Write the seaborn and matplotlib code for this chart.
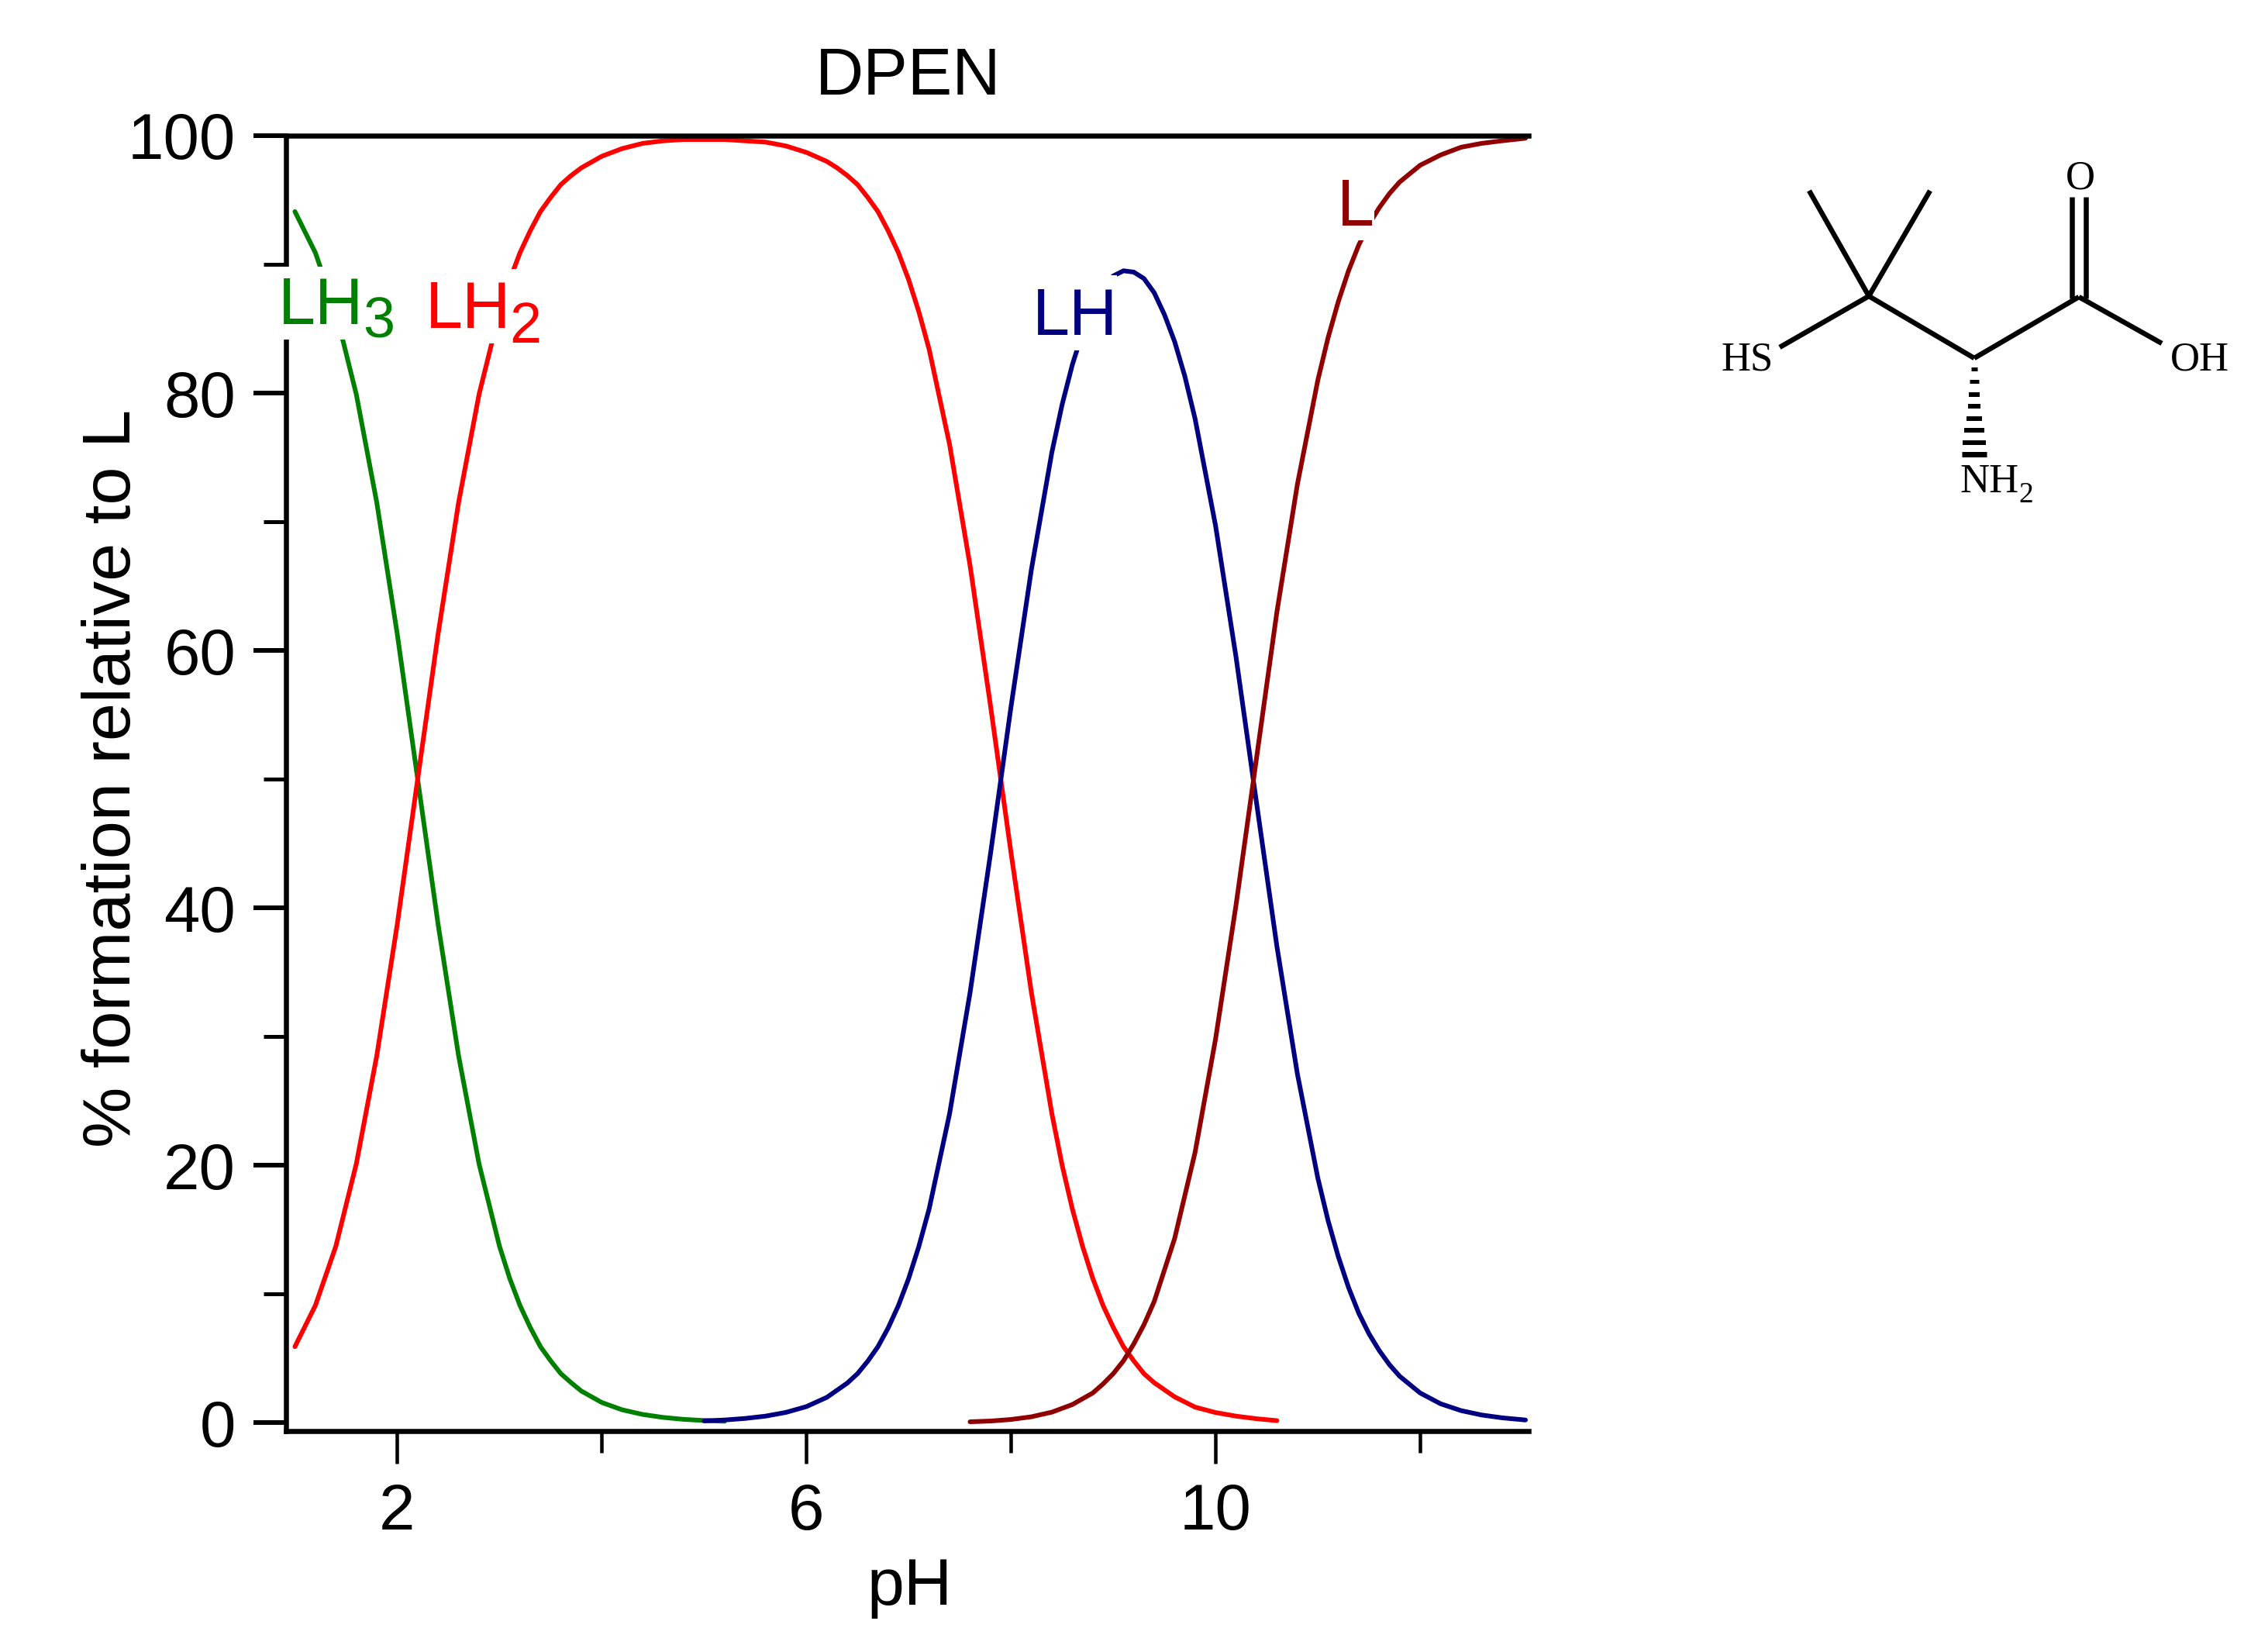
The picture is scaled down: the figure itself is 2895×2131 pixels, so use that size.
# DPEN speciation curves with the structure drawn next to the plot
import matplotlib
matplotlib.use("Agg")
import matplotlib.pyplot as plt
from matplotlib.patches import Rectangle
from matplotlib.ticker import FixedLocator
import seaborn as sns

# values
ph_lh3 = [1.0, 1.2, 1.4, 1.6, 1.8, 2.0, 2.2, 2.4, 2.6, 2.8, 3.0, 3.1, 3.2, 3.3, 3.4, 3.5, 3.6, 3.7, 3.8,
          4.0, 4.2, 4.4, 4.6, 4.8, 5.0, 5.2]
lh3 = [94.1, 90.9, 86.3, 79.9, 71.5, 61.3, 50.0, 38.7, 28.5, 20.1, 13.7, 11.2, 9.1, 7.4, 5.9, 4.8, 3.8, 3.1, 2.45,
       1.56, 0.99, 0.63, 0.40, 0.25, 0.16, 0.10]

ph_lh2 = [1.0, 1.2, 1.4, 1.6, 1.8, 2.0, 2.2, 2.4, 2.6, 2.8, 3.0, 3.1, 3.2, 3.3, 3.4, 3.5, 3.6, 3.7, 3.8,
          4.0, 4.2, 4.4, 4.6, 4.8, 5.0, 5.2, 5.4, 5.6, 5.8, 6.0, 6.2,
          6.3, 6.4, 6.5, 6.6, 6.7, 6.8, 6.9, 7.0, 7.1, 7.2, 7.4, 7.6, 7.8, 8.0, 8.2, 8.4,
          8.5, 8.6, 8.7, 8.8, 8.9, 9.0, 9.1, 9.2, 9.3, 9.4, 9.6, 9.8, 10.0, 10.2, 10.4, 10.6]
lh2 = [5.9, 9.1, 13.7, 20.1, 28.5, 38.7, 50.0, 61.3, 71.5, 79.9, 86.3, 88.8, 90.9, 92.6, 94.1, 95.2, 96.2, 96.9, 97.5,
       98.4, 99.0, 99.4, 99.6, 99.7, 99.7, 99.7, 99.6, 99.5, 99.2, 98.7, 98.0,
       97.5, 96.9, 96.2, 95.2, 94.1, 92.6, 90.9, 88.8, 86.3, 83.4, 76.0, 66.6, 55.7, 44.3, 33.4, 24.0,
       20.0, 16.6, 13.7, 11.2, 9.1, 7.4, 5.9, 4.8, 3.8, 3.1, 2.0, 1.2, 0.78, 0.5, 0.3, 0.15]

ph_lh = [5.0, 5.2, 5.4, 5.6, 5.8, 6.0, 6.2, 6.4, 6.5, 6.6, 6.7, 6.8, 6.9, 7.0, 7.1, 7.2, 7.4, 7.6, 7.8, 8.0, 8.2, 8.4,
         8.5, 8.6, 8.7, 8.8, 8.9, 9.0, 9.1, 9.2, 9.3, 9.4, 9.5, 9.6, 9.7, 9.8, 10.0, 10.2, 10.4, 10.6, 10.8, 11.0,
         11.1, 11.2, 11.3, 11.4, 11.5, 11.6, 11.7, 11.8, 12.0, 12.2, 12.4, 12.6, 12.8, 13.03]
lh = [0.13, 0.2, 0.32, 0.5, 0.79, 1.24, 1.96, 3.07, 3.8, 4.77, 5.9, 7.36, 9.1, 11.2, 13.7, 16.6, 24.0, 33.4, 44.2, 55.6, 66.3, 75.4,
      79.1, 82.2, 84.7, 86.7, 88.1, 89.1, 89.5, 89.4, 88.9, 87.8, 86.1, 84.0, 81.3, 78.0, 69.7, 59.5, 48.2, 37.0, 27.1, 19.0,
      15.7, 12.9, 10.5, 8.5, 6.9, 5.6, 4.5, 3.6, 2.3, 1.46, 0.93, 0.59, 0.37, 0.2]

ph_l = [7.6, 7.8, 8.0, 8.2, 8.4, 8.6, 8.8, 8.9, 9.0, 9.1, 9.2, 9.3, 9.4, 9.6, 9.8, 10.0, 10.2, 10.4, 10.6, 10.8, 11.0,
        11.1, 11.2, 11.3, 11.4, 11.5, 11.6, 11.7, 11.8, 12.0, 12.2, 12.4, 12.6, 12.8, 13.03]
l = [0.06, 0.12, 0.24, 0.45, 0.81, 1.4, 2.3, 3.0, 3.8, 4.8, 6.1, 7.6, 9.4, 14.3, 21.0, 29.8, 40.2, 51.6, 63.0, 72.9, 81.0,
     84.3, 87.1, 89.5, 91.5, 93.1, 94.4, 95.5, 96.4, 97.7, 98.5, 99.1, 99.4, 99.6, 99.8]

x_major = [2, 6, 10]
x_minor = [4, 8, 12]
y_major = [0, 20, 40, 60, 80, 100]
y_minor = [10, 30, 50, 70, 90]

GREEN = "#008000"
RED = "#ff0000"
NAVY = "#000080"
DARKRED = "#900000"

W, H = 2895, 2131
PX = 72 / 100  # points per pixel at dpi 100

sns.set_style("white")
plt.rcParams["font.family"] = ["Liberation Sans", "DejaVu Sans"]
plt.rcParams["text.color"] = "black"
plt.rcParams["axes.labelcolor"] = "black"
plt.rcParams["xtick.color"] = "black"
plt.rcParams["ytick.color"] = "black"

fig = plt.figure(figsize=(W / 100, H / 100), dpi=100)
ax = fig.add_axes([369 / W, 1 - 1846 / H, (1972 - 369) / W, (1846 - 175) / H])

lw = 6 * PX
for xs, ys, col in [(ph_lh3, lh3, GREEN), (ph_lh2, lh2, RED), (ph_lh, lh, NAVY), (ph_l, l, DARKRED)]:
    sns.lineplot(x=xs, y=ys, color=col, linewidth=lw, ax=ax, solid_capstyle="round", clip_on=False)

ax.set_xlim(0.913, 13.06)
ax.set_ylim(-0.66, 100)

for s in ["left", "bottom", "top"]:
    ax.spines[s].set_color("black")
    ax.spines[s].set_linewidth(6.5 * PX)
ax.spines["right"].set_visible(False)

ax.xaxis.set_major_locator(FixedLocator(x_major))
ax.xaxis.set_minor_locator(FixedLocator(x_minor))
ax.yaxis.set_major_locator(FixedLocator(y_major))
ax.yaxis.set_minor_locator(FixedLocator(y_minor))
ax.tick_params(axis="x", which="major", bottom=True, length=42 * PX, width=4.5 * PX, pad=24 * PX, labelsize=60)
ax.tick_params(axis="x", which="minor", bottom=True, length=28 * PX, width=4.5 * PX)
ax.tick_params(axis="y", which="major", left=True, length=42 * PX, width=6 * PX, pad=23 * PX, labelsize=60)
ax.tick_params(axis="y", which="minor", left=True, length=29 * PX, width=5 * PX)

ax.set_title("DPEN", fontsize=62, pad=53 * PX, x=0.501)
ax.set_xlabel("pH", fontsize=62)
ax.set_ylabel("% formation relative to L", fontsize=63.5)
ax.xaxis.set_label_coords(0.502, -0.097)
ax.yaxis.set_label_coords(-0.114, 0.504)

# overlay in picture pixels for the curve labels and the structure
ov = fig.add_axes([0, 0, 1, 1], zorder=5)
ov.set_xlim(0, W)
ov.set_ylim(H, 0)
ov.axis("off")

labels = [
    ("LH", "3", GREEN, 359, 418, 468, 436, (358, 344, 152, 94)),
    ("LH", "2", RED, 549, 423, 657, 442, (545, 347, 155, 96)),
    ("LH", "", NAVY, 1332, 432, 0, 0, (1328, 355, 113, 97)),
    ("L", "", DARKRED, 1725, 291, 0, 0, (1722, 214, 51, 96)),
]
for name, sub, col, tx, ty, sx, sy, box in labels:
    ov.add_patch(Rectangle((box[0], box[1]), box[2], box[3], facecolor="white", edgecolor="none"))
    ov.text(tx, ty, name, color=col, fontsize=62, ha="left", va="baseline")
    if sub:
        ov.text(sx, sy, sub, color=col, fontsize=53, ha="left", va="baseline")

# structure
bond_w = 6.5 * PX
bonds = [
    ((2411, 382), (2334, 246)),
    ((2411, 382), (2490, 246)),
    ((2411, 382), (2296, 448)),
    ((2411, 382), (2547, 462)),
    ((2547, 462), (2682, 383)),
    ((2682, 383), (2789, 443)),
    ((2673, 254), (2673, 385)),
    ((2691, 254), (2691, 385)),
]
for a, b in bonds:
    ov.plot([a[0], b[0]], [a[1], b[1]], color="black", lw=bond_w, solid_capstyle="butt")

hash_y = [476, 492, 509, 524, 540, 555, 571, 586]
hash_half = [4, 6, 7, 8, 10, 13, 15, 16]
hash_w = [5, 5, 6, 6, 6, 6, 6, 7]
for y, hw, t in zip(hash_y, hash_half, hash_w):
    ov.plot([2547 - hw, 2547 + hw], [y, y], color="black", lw=t * PX, solid_capstyle="butt")

serif = ["Liberation Serif", "DejaVu Serif"]
ov.text(2684, 243, "O", family=serif, fontsize=38, ha="center", va="baseline")
ov.text(2221, 478, "HS", family=serif, fontsize=38, ha="left", va="baseline")
ov.text(2800, 478, "OH", family=serif, fontsize=38, ha="left", va="baseline")
ov.text(2529, 635, "NH", family=serif, fontsize=38, ha="left", va="baseline")
ov.text(2604, 648, "2", family=serif, fontsize=27, ha="left", va="baseline")

fig.savefig("out.png", dpi=100)
